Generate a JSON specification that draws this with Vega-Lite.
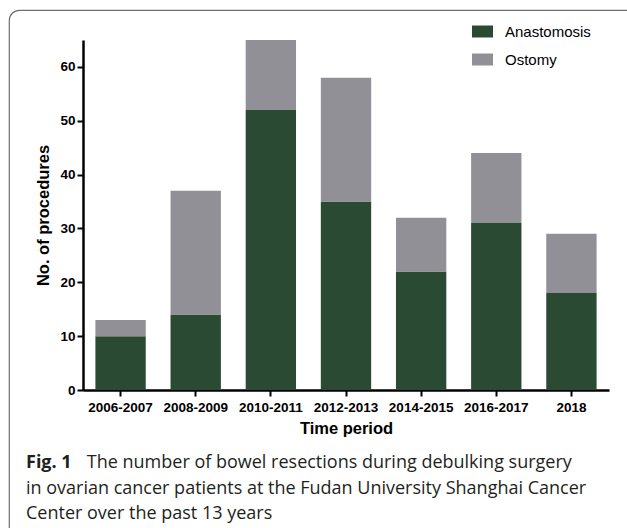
{
  "$schema": "https://vega.github.io/schema/vega-lite/v6.json",
  "width": 630,
  "height": 530,
  "autosize": {"type": "none"},
  "padding": {"left": 9, "top": 10, "right": 0, "bottom": 0},
  "background": "white",
  "config": {
    "view": {"stroke": "#6e6e6e", "strokeWidth": 1.2, "cornerRadius": 10, "fill": "white"},
    "font": "Liberation Sans"
  },
  "title": {
    "text": "Fig. 1",
    "subtitle": [
      "\u200b\u00a0\u00a0\u00a0\u00a0\u00a0\u00a0\u00a0\u00a0\u00a0\u00a0\u00a0\u00a0\u00a0The number of bowel resections during debulking surgery",
      "in ovarian cancer patients at the Fudan University Shanghai Cancer",
      "Center over the past 13 years"
    ],
    "orient": "bottom",
    "anchor": "start",
    "frame": "group",
    "offset": -86,
    "dx": 17,
    "font": "Open Sans",
    "fontSize": 18,
    "fontWeight": "bold",
    "color": "#231f20",
    "subtitleFont": "Open Sans",
    "subtitleFontSize": 18,
    "subtitleFontWeight": "normal",
    "subtitleColor": "#231f20",
    "subtitleLineHeight": 25.5,
    "subtitlePadding": -18
  },
  "data": {
    "values": [
      {"period": "2006-2007", "type": "Anastomosis", "count": 10},
      {"period": "2006-2007", "type": "Ostomy", "count": 3},
      {"period": "2008-2009", "type": "Anastomosis", "count": 14},
      {"period": "2008-2009", "type": "Ostomy", "count": 23},
      {"period": "2010-2011", "type": "Anastomosis", "count": 52},
      {"period": "2010-2011", "type": "Ostomy", "count": 13},
      {"period": "2012-2013", "type": "Anastomosis", "count": 35},
      {"period": "2012-2013", "type": "Ostomy", "count": 23},
      {"period": "2014-2015", "type": "Anastomosis", "count": 22},
      {"period": "2014-2015", "type": "Ostomy", "count": 10},
      {"period": "2016-2017", "type": "Anastomosis", "count": 31},
      {"period": "2016-2017", "type": "Ostomy", "count": 13},
      {"period": "2018", "type": "Anastomosis", "count": 18},
      {"period": "2018", "type": "Ostomy", "count": 11}
    ]
  },
  "mark": {"type": "bar"},
  "encoding": {
    "x": {
      "field": "period",
      "type": "nominal",
      "sort": null,
      "scale": {"range": [74, 600], "paddingInner": 0.33, "paddingOuter": 0.165},
      "axis": {
        "title": "Time period",
        "offset": -150,
        "labelAngle": 0,
        "labelFont": "Liberation Sans",
        "labelFontSize": 13.5,
        "labelFontWeight": "bold",
        "labelColor": "black",
        "labelPadding": 4,
        "titleFont": "Liberation Sans",
        "titleFontSize": 16.5,
        "titleFontWeight": "bold",
        "titleColor": "black",
        "titlePadding": 7,
        "domainColor": "black",
        "domainWidth": 2.5,
        "tickColor": "black",
        "tickWidth": 2,
        "tickSize": 6
      }
    },
    "y": {
      "field": "count",
      "type": "quantitative",
      "stack": "zero",
      "scale": {"domain": [0, 65], "nice": false, "range": [380, 30]},
      "axis": {
        "title": "No. of procedures",
        "offset": -74,
        "values": [0, 10, 20, 30, 40, 50, 60],
        "grid": false,
        "labelFont": "Liberation Sans",
        "labelFontSize": 13.5,
        "labelFontWeight": "bold",
        "labelColor": "black",
        "labelPadding": 2,
        "titleFont": "Liberation Sans",
        "titleFontSize": 16.5,
        "titleFontWeight": "bold",
        "titleColor": "black",
        "titlePadding": 8,
        "domainColor": "black",
        "domainWidth": 2.5,
        "tickColor": "black",
        "tickWidth": 2,
        "tickSize": 6
      }
    },
    "order": {"field": "type", "sort": "ascending"},
    "color": {
      "field": "type",
      "type": "nominal",
      "scale": {"domain": ["Anastomosis", "Ostomy"], "range": ["#2b4a34", "#929097"]},
      "legend": {
        "title": null,
        "orient": "none",
        "legendX": 463,
        "legendY": 11,
        "symbolType": "M-1,-0.571H1V0.571H-1Z",
        "symbolSize": 441,
        "symbolStrokeWidth": 0,
        "labelFont": "Liberation Sans",
        "labelFontSize": 15,
        "labelColor": "black",
        "labelOffset": 12,
        "rowPadding": 9
      }
    }
  }
}
